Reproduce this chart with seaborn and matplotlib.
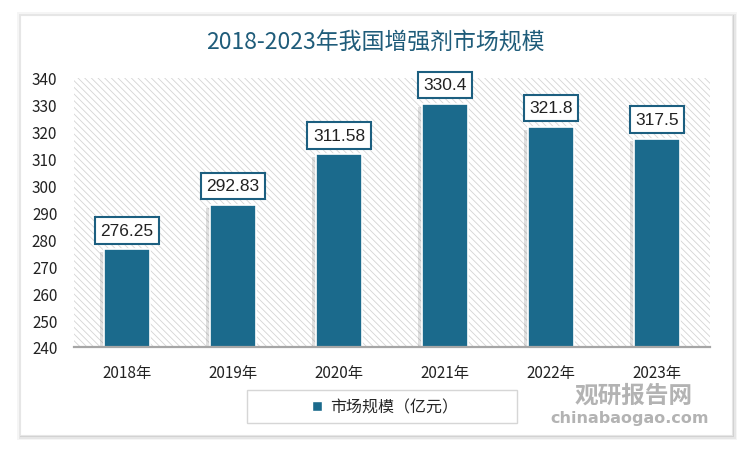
import matplotlib
matplotlib.use("Agg")
import matplotlib.pyplot as plt
import matplotlib.patheffects as pe
from matplotlib.patches import Rectangle
import seaborn as sns
import pandas as pd

# data
years = ["2018年", "2019年", "2020年", "2021年", "2022年", "2023年"]
market_size = [276.25, 292.83, 311.58, 330.4, 321.8, 317.5]
value_labels = ["276.25", "292.83", "311.58", "330.4", "321.8", "317.5"]
y_ticks = [240, 250, 260, 270, 280, 290, 300, 310, 320, 330, 340]

title = "2018-2023年我国增强剂市场规模"
series_name = "市场规模（亿元）"

BAR = "#1b6a8c"
DARK = "#1c5f80"

sns.set_theme(style="white")
plt.rcParams["font.family"] = ["Noto Sans CJK SC", "DejaVu Sans"]
plt.rcParams["hatch.linewidth"] = 0.6
plt.rcParams["hatch.color"] = "#d4d4d4"

df = pd.DataFrame({"year": years, "value": market_size})

fig = plt.figure(figsize=(7.5, 4.52), dpi=100, facecolor="white")

# white card with a soft shadow
for off, a in [(4, 0.04), (2.5, 0.06), (1, 0.09)]:
    fig.patches.append(Rectangle((20 / 750 - off / 750 + 1 / 750, 16 / 452 - off / 452 - 1 / 452),
                                 712 / 750 + 2 * off / 750, 420 / 452 + 2 * off / 452,
                                 transform=fig.transFigure, facecolor="black",
                                 alpha=a, edgecolor="none", zorder=0))
fig.patches.append(Rectangle((20 / 750, 16 / 452), 712 / 750, 420 / 452,
                             transform=fig.transFigure, facecolor="white",
                             edgecolor="#e6e6e6", lw=0.8, zorder=1))

ax = fig.add_axes([74 / 750, 104 / 452, 636 / 750, 269 / 452])
ax.set_facecolor("none")
ax.set_zorder(2)

# hatched plot background
ax.add_patch(Rectangle((0, 0), 1, 1, transform=ax.transAxes, facecolor="white",
                       hatch="\\\\\\\\\\", edgecolor="#d4d4d4", lw=0, zorder=0))

sns.barplot(data=df, x="year", y="value", color=BAR, width=0.43,
            edgecolor="white", linewidth=1.2, saturation=1, ax=ax, zorder=3)

for bar in ax.patches[1:]:
    bar.set_path_effects([pe.SimplePatchShadow(offset=(-3, -2), alpha=0.16,
                                               shadow_rgbFace="#444444"),
                          pe.Normal()])

ax.set_ylim(240, 340)
ax.set_yticks(y_ticks)
ax.set_xlim(-0.5, len(years) - 0.5)
ax.set_xlabel("")
ax.set_ylabel("")

for i, (v, lab) in enumerate(zip(market_size, value_labels)):
    ax.annotate(lab, (i, v), xytext=(0, 19), textcoords="offset pixels",
                ha="center", va="center", fontsize=12.5, color="#222222",
                family=["Liberation Sans"], zorder=5,
                bbox=dict(boxstyle="square,pad=0.32", facecolor="white",
                          edgecolor=DARK, linewidth=1.5))

for s in ["left", "right", "top"]:
    ax.spines[s].set_visible(False)
ax.spines["bottom"].set_color("#a6a6a6")
ax.spines["bottom"].set_linewidth(1.6)
ax.spines["bottom"].set_zorder(6)
ax.tick_params(axis="y", length=0, pad=12, labelsize=11, labelcolor="#222222")
ax.tick_params(axis="x", length=0, pad=12, labelsize=11, labelcolor="#222222")

fig.text(0.5, 1 - 43 / 452, title, ha="center", va="center", fontsize=16.5,
         fontweight="medium", color="#1f5c7a")

# legend frame + legend
fig.patches.append(Rectangle((247 / 750, 1 - 424 / 452), 270 / 750, 33 / 452,
                             transform=fig.transFigure, facecolor="white",
                             edgecolor="#d6d6d6", lw=1, zorder=3))
handle = Rectangle((0, 0), 1, 1, facecolor=BAR)
leg = fig.legend([handle], [series_name], loc="center",
                 bbox_to_anchor=(385 / 750, 1 - 408 / 452), frameon=False,
                 fontsize=11.5, handlelength=0.6, handleheight=0.6,
                 handletextpad=0.5)
leg.set_zorder(4)

# watermark
fig.text(634 / 750, 1 - 396 / 452, "观研报告网", ha="center", va="center",
         fontsize=17, fontweight="bold", color="#9a9a9a", alpha=0.75, zorder=7)
fig.text(630 / 750, 1 - 419 / 452, "chinabaogao.com", ha="center", va="center",
         fontsize=11.5, fontweight="bold", color="#9a9a9a", alpha=0.75,
         family=["DejaVu Sans"], zorder=7)

fig.savefig("out.png", dpi=100, facecolor="white")
